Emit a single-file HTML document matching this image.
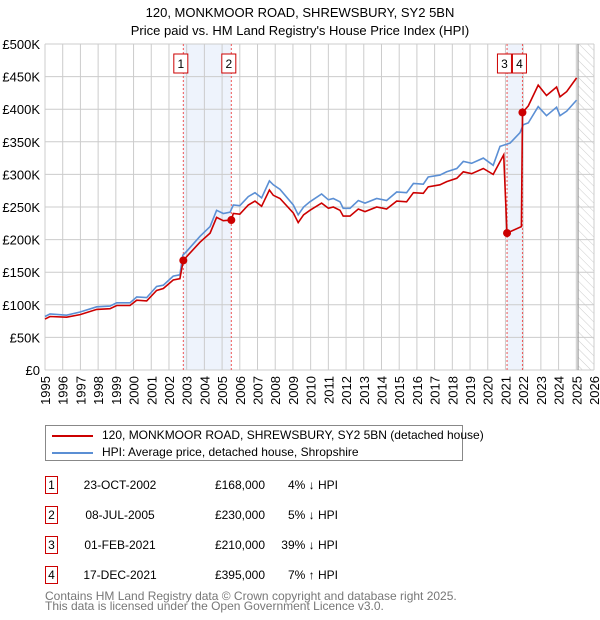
<!DOCTYPE html>
<html><head><meta charset="utf-8"><style>
body{margin:0;background:#fff;font-family:"Liberation Sans","DejaVu Sans",sans-serif;}
#wrap{position:relative;width:600px;height:620px;overflow:hidden;}
.t{position:absolute;font-size:12px;color:#000;white-space:nowrap;}
</style></head><body>
<div id="wrap">
<svg id="chart" width="600" height="420" style="position:absolute;left:0;top:0"></svg>
<div style="position:absolute;left:45px;top:425px;width:418px;height:36px;border:1px solid #888;box-sizing:border-box;">
 <div style="position:absolute;left:6px;top:2px;font-size:12px;white-space:nowrap;"><span style="display:inline-block;width:41px;height:2px;background:#cc0000;vertical-align:middle;margin-right:9px"></span>120, MONKMOOR ROAD, SHREWSBURY, SY2 5BN (detached house)</div>
 <div style="position:absolute;left:6px;top:19px;font-size:12px;white-space:nowrap;"><span style="display:inline-block;width:41px;height:2px;background:#5b8fd4;vertical-align:middle;margin-right:9px"></span>HPI: Average price, detached house, Shropshire</div>
</div>
<div id="table"></div>
<div class="t" style="left:45px;top:591px;font-size:12px;color:#777;line-height:10px">Contains HM Land Registry data © Crown copyright and database right 2025.<br>This data is licensed under the Open Government Licence v3.0.</div>
</div>
<script>
const hpiYears=[1995.0,1995.28,1996.22,1996.98,1997.92,1998.67,1999.05,1999.8,2000.18,2000.74,2001.3,2001.68,2002.24,2002.62,2002.78,2003.0,2003.75,2004.32,2004.69,2005.07,2005.45,2005.63,2006.0,2006.48,2006.86,2007.23,2007.67,2007.89,2008.27,2009.02,2009.3,2009.6,2009.96,2010.62,2011.0,2011.28,2011.66,2011.84,2012.22,2012.69,2013.07,2013.73,2014.29,2014.86,2015.42,2015.8,2016.36,2016.64,2017.3,2017.68,2018.25,2018.62,2019.09,2019.75,2020.31,2020.69,2021.26,2021.82,2022.0,2022.29,2022.85,2023.32,2023.89,2024.08,2024.46,2025.02];
const hpiValues=[82,86,84,89,97,98,103,103,112,111,128,130,144,146,176,182,205,220,245,240,242,253,252,266,272,264,290,284,277,253,238,250,258,270,261,263,258,248,248,260,256,263,260,273,272,286,285,296,299,304,309,320,317,325,314,343,348,364,376,379,404,390,403,390,397,414];
const priceYears=[1995.0,1995.28,1996.22,1996.98,1997.92,1998.67,1999.05,1999.8,2000.18,2000.74,2001.3,2001.68,2002.24,2002.62,2002.81,2003.0,2003.75,2004.32,2004.69,2005.07,2005.52,2005.63,2006.0,2006.48,2006.86,2007.23,2007.67,2007.89,2008.27,2009.02,2009.3,2009.6,2009.96,2010.62,2011.0,2011.28,2011.66,2011.84,2012.22,2012.69,2013.07,2013.73,2014.29,2014.86,2015.42,2015.8,2016.36,2016.64,2017.3,2017.68,2018.25,2018.62,2019.09,2019.75,2020.31,2020.9,2021.09,2021.9,2021.96,2022.29,2022.85,2023.32,2023.89,2024.08,2024.46,2025.02];
const priceValues=[78,82,81,85,93,94,99,99,107,106,122,125,138,140,168,174,196,210,234,229,230,240,239,253,259,251,276,268,263,241,226,238,245,256,248,250,245,236,236,247,243,250,247,259,258,272,271,281,284,289,294,304,301,309,300,330,210,220,395,405,437,421,434,419,427,448];
const saleLabels=["1","2","3","4"];
const saleYears=[2002.81,2005.52,2021.09,2021.96];
const saleValues=[168,230,210,395];
const saleDates=["23-OCT-2002","08-JUL-2005","01-FEB-2021","17-DEC-2021"];
const salePrices=["£168,000","£230,000","£210,000","£395,000"];
const saleHpi=["4% ↓ HPI","5% ↓ HPI","39% ↓ HPI","7% ↑ HPI"];
const yTicks=[0,50,100,150,200,250,300,350,400,450,500];
const yTickLabels=["£0","£50K","£100K","£150K","£200K","£250K","£300K","£350K","£400K","£450K","£500K"];
const xTicks=[1995,1996,1997,1998,1999,2000,2001,2002,2003,2004,2005,2006,2007,2008,2009,2010,2011,2012,2013,2014,2015,2016,2017,2018,2019,2020,2021,2022,2023,2024,2025,2026];
const forecastStart=2025.1;

const L=45,R=594,T=44,B=370,X0=1995,X1=2026;
const sx=y=>L+(y-X0)/(X1-X0)*(R-L);
const sy=v=>B-v/500*(B-T);
const NS="http://www.w3.org/2000/svg";
const svg=document.getElementById('chart');
function mk(tag,attrs,parent){const e=document.createElementNS(NS,tag);for(const k in attrs)e.setAttribute(k,attrs[k]);(parent||svg).appendChild(e);return e;}

let e;
e=mk('text',{x:300,y:17,'text-anchor':'middle','font-size':13});e.textContent="120, MONKMOOR ROAD, SHREWSBURY, SY2 5BN";


e=mk('text',{x:300,y:35,'text-anchor':'middle','font-size':13});e.textContent="Price paid vs. HM Land Registry's House Price Index (HPI)";



for(let i=0;i<4;i+=2){
 e=mk('rect',{x:sx(saleYears[i]),y:T,width:sx(saleYears[i+1])-sx(saleYears[i]),height:B-T,fill:'#eef3fc'});
 
 
}
const defs=mk('defs',{});
const pat=mk('pattern',{id:'hatch',width:6,height:6,patternUnits:'userSpaceOnUse',patternTransform:'rotate(-45)'},defs);
mk('line',{x1:0,y1:0,x2:0,y2:6,stroke:'#ccc','stroke-width':1},pat);
e=mk('rect',{x:sx(forecastStart),y:T,width:R-sx(forecastStart),height:B-T,fill:'url(#hatch)'});



yTicks.forEach((v,i)=>{
 e=mk('line',{x1:L,x2:R,y1:sy(v),y2:sy(v),stroke:'#cccccc','stroke-width':1});
 
 
 e=mk('text',{x:40,y:sy(v)+5,'text-anchor':'end','font-size':13});e.textContent=yTickLabels[i];
 
 
});
xTicks.forEach(y=>{
 e=mk('line',{x1:sx(y),x2:sx(y),y1:T,y2:B,stroke:'#cccccc','stroke-width':1});
 
 
 e=mk('text',{x:0,y:0,'text-anchor':'end','font-size':13,transform:`translate(${sx(y)+5},${B+6}) rotate(-90)`});e.textContent=y;
 
 
});
e=mk('line',{x1:sx(forecastStart),x2:sx(forecastStart),y1:T,y2:B,stroke:'#999','stroke-width':1.2});



saleYears.forEach(y=>{
 e=mk('line',{x1:sx(y),x2:sx(y),y1:T,y2:B,stroke:'#ee5555','stroke-width':1,'stroke-dasharray':'2,2'});
 
 
});
const boxOff=[-2.5,-2.5,-3,-3];
saleYears.forEach((y,i)=>{
 let cx=sx(y)+boxOff[i];
 if(i==2)cx=sx(saleYears[3])-18;
 if(i==3)cx=sx(saleYears[3])-3;
 const g=mk('g',{});
 
 
 mk('rect',{x:cx-7,y:54,width:14,height:19,fill:'#fff',stroke:'#cc0000','stroke-width':1},g);
 const t=mk('text',{x:cx,y:68,'text-anchor':'middle','font-size':12},g);t.textContent=saleLabels[i];
});

function path(xs,vs){return xs.map((y,i)=>(i?'L':'M')+sx(y).toFixed(1)+','+sy(vs[i]).toFixed(1)).join('');}
e=mk('path',{d:path(hpiYears,hpiValues),fill:'none',stroke:'#5b8fd4','stroke-width':1.6});


e=mk('path',{d:path(priceYears,priceValues),fill:'none',stroke:'#cc0000','stroke-width':1.6});


saleYears.forEach((y,i)=>{
 e=mk('circle',{cx:sx(y),cy:sy(saleValues[i]),r:4,fill:'#cc0000'});
 
 
});

const tb=document.getElementById('table');
const rowY=[476,506,536,566];
saleLabels.forEach((lab,i)=>{
 const r=document.createElement('div');
 
 
 r.style.cssText=`position:absolute;left:0;top:${rowY[i]}px;width:600px;height:20px;font-size:12px;`;
 r.innerHTML=`<span style="position:absolute;left:45px;top:0;width:13px;height:18px;border:1px solid #cc0000;box-sizing:border-box;text-align:center;line-height:16px">${lab}</span>
 <span style="position:absolute;left:80px;width:80px;text-align:center;line-height:18px">${saleDates[i]}</span>
 <span style="position:absolute;left:190px;width:75px;text-align:right;line-height:18px">${salePrices[i]}</span>
 <span style="position:absolute;left:270px;width:68px;text-align:right;line-height:18px">${saleHpi[i]}</span>`;
 tb.appendChild(r);
});
</script>
</body></html>
